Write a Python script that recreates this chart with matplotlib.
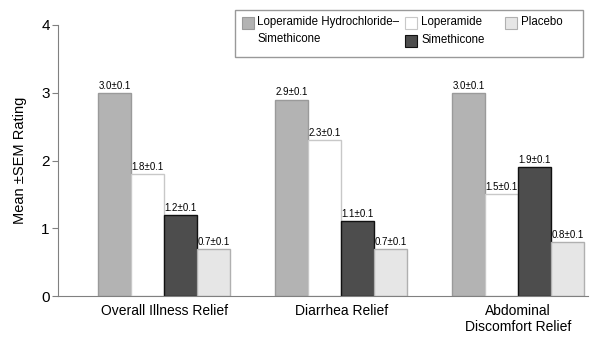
import matplotlib.pyplot as plt
from matplotlib.patches import Rectangle
import numpy as np

plt.rcParams['font.family'] = ['Liberation Sans', 'DejaVu Sans']

# data
groups = ['Overall Illness Relief', 'Diarrhea Relief', 'Abdominal\nDiscomfort Relief']
series = ['Loperamide Hydrochloride\u2013\nSimethicone', 'Loperamide', 'Simethicone', 'Placebo']
lhs = [3.0, 2.9, 3.0]
lop = [1.8, 2.3, 1.5]
sim = [1.2, 1.1, 1.9]
pla = [0.7, 0.7, 0.8]
sem = 0.1

values = [lhs, lop, sim, pla]
faces = ['#b3b3b3', '#ffffff', '#4d4d4d', '#e6e6e6']
edges = ['#9a9a9a', '#c8c8c8', '#111111', '#b0b0b0']

fig = plt.figure(figsize=(5.9, 3.42), dpi=100)
ax = fig.add_axes([58 / 590, 1 - 296 / 342, 530 / 590, 271 / 342])

x = np.arange(len(groups))
w = 0.186
for i, (vals, fc, ec) in enumerate(zip(values, faces, edges)):
    pos = x + (i - 1.5) * w
    ax.bar(pos, vals, width=w, color=fc, edgecolor=ec, linewidth=1.0, zorder=2)
    for p, v in zip(pos, vals):
        ax.text(p, v + 0.03, f'{v:.1f}\u00b1{sem:.1f}', ha='center', va='bottom',
                fontsize=7)

ax.set_xlim(-0.6, 2.395)
ax.set_ylim(0, 4)
ax.set_yticks([0, 1, 2, 3, 4])
ax.set_xticks(x)
ax.set_xticklabels(groups, fontsize=10, linespacing=1.15)
ax.tick_params(axis='x', length=0, pad=6)
ax.tick_params(axis='y', labelsize=11, length=4, color='#808080', pad=2)
for s in ['top', 'right']:
    ax.spines[s].set_visible(False)
for s in ['left', 'bottom']:
    ax.spines[s].set_color('#808080')
ax.set_ylabel('Mean \u00b1SEM Rating', fontsize=10.5, labelpad=10)

# legend drawn by hand so the two-line entry sits beside the stacked pair
def px(xp, yp):
    return xp / 590, 1 - yp / 342

lx0, ly0 = px(235, 57)
lx1, ly1 = px(583, 10)
fig.patches.append(Rectangle((lx0, ly0), lx1 - lx0, ly1 - ly0, transform=fig.transFigure,
                             facecolor='white', edgecolor='#999999', linewidth=1.0))
entries = [(242, 17, 257, 0), (405, 17, 421, 1), (405, 35, 421, 2), (505, 17, 521, 3)]
for sx, sy, tx, k in entries:
    a, b = px(sx, sy + 12)
    fig.patches.append(Rectangle((a, b), 12 / 590, 12 / 342, transform=fig.transFigure,
                                 facecolor=faces[k], edgecolor=edges[k], linewidth=0.8))
    tx_, ty_ = px(tx, sy - 1)
    fig.text(tx_, ty_, series[k], ha='left', va='top', fontsize=8.3, linespacing=1.55)

fig.savefig('out.png', dpi=100)
